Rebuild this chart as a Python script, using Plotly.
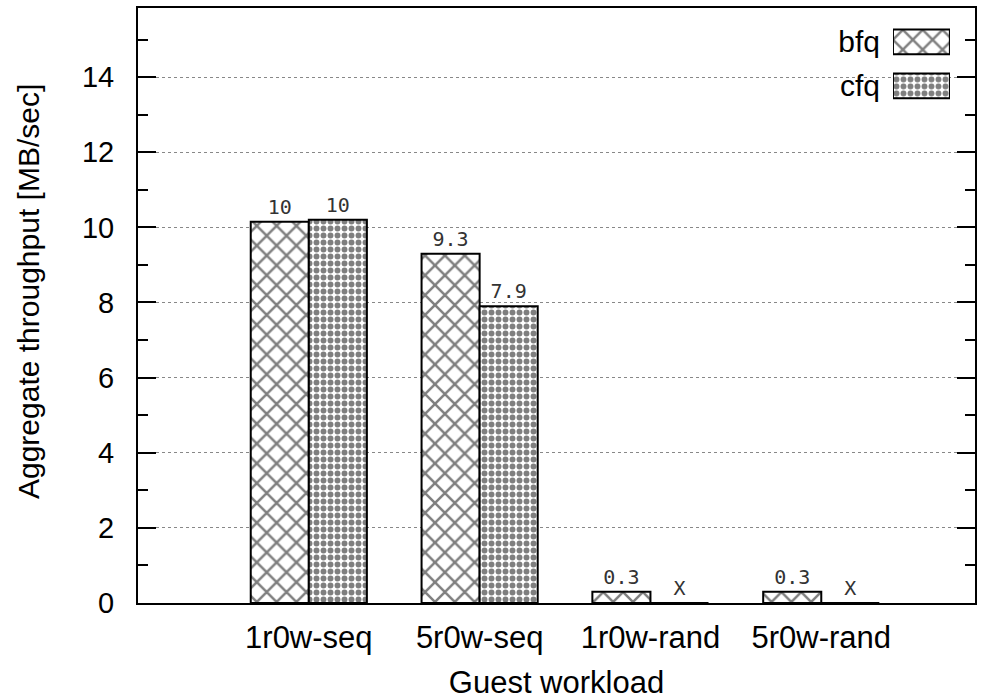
import plotly.graph_objects as go

categories = ["1r0w-seq", "5r0w-seq", "1r0w-rand", "5r0w-rand"]
series_names = ["bfq", "cfq"]
bfq_values = [10.15, 9.3, 0.3, 0.3]
cfq_values = [10.2, 7.9, 0.0, 0.0]
bfq_labels = ["10", "9.3", "0.3", "0.3"]
cfq_labels = ["10", "7.9", "X", "X"]
y_ticks = [0, 2, 4, 6, 8, 10, 12, 14]
key_lengths = [1, 1]
y_title = "Aggregate throughput [MB/sec]"
x_title = "Guest workload"

label_font = dict(family="DejaVu Sans Mono", size=20, color="#333333")
bfq_pattern = dict(shape="x", size=14, solidity=0.32, fgcolor="black", bgcolor="white")
cfq_pattern = dict(shape=".", size=7, solidity=0.55, fgcolor="black", bgcolor="white")
patterns = [bfq_pattern, cfq_pattern]
sans = "Liberation Sans, Arial"

fig = go.Figure()
for name, vals, labels, pat in [
    (series_names[0], bfq_values, bfq_labels, bfq_pattern),
    (series_names[1], cfq_values, cfq_labels, cfq_pattern),
]:
    fig.add_trace(go.Bar(
        x=categories, y=vals, name=name,
        text=labels, textposition="outside", textfont=label_font,
        marker=dict(color="white", line=dict(color="black", width=2), pattern=pat),
        cliponaxis=False, showlegend=False,
    ))

# gnuplot-style key: label on the left, patterned box on the right
for i, name in enumerate(series_names):
    fig.add_trace(go.Bar(
        x=[key_lengths[i]], y=[name], orientation="h", width=[0.56],
        xaxis="x2", yaxis="y2", showlegend=False, hoverinfo="skip",
        marker=dict(color="white", line=dict(color="black", width=2), pattern=patterns[i]),
    ))

# white area behind the key (interrupts the grid line like the original)
fig.add_shape(type="rect", xref="paper", yref="paper",
              x0=0.81, x1=0.985, y0=0.83, y1=0.985,
              fillcolor="white", line=dict(width=0), layer="between")

# y-axis title placed like gnuplot's ylabel
fig.add_annotation(text=y_title, xref="paper", yref="paper",
                   x=-0.13, y=0.523, xanchor="center", yanchor="middle",
                   textangle=-90, showarrow=False,
                   font=dict(family=sans, size=30, color="black"))

fig.update_layout(
    width=984, height=700,
    margin=dict(l=138, r=9, t=8, b=97, autoexpand=False),
    paper_bgcolor="white", plot_bgcolor="white",
    barmode="group", bargap=0.32, bargroupgap=0,
    font=dict(family=sans, size=30, color="black"),
    xaxis=dict(
        title=dict(text=x_title, standoff=17, font=dict(family=sans, size=31)),
        range=[-1, 3.9], automargin=False,
        showline=True, linecolor="black", linewidth=2, mirror=True,
        ticks="", showgrid=False, tickfont=dict(family=sans, size=31),
        ticklabelstandoff=6,
    ),
    yaxis=dict(
        range=[0, 15.84], automargin=False,
        tickvals=y_ticks,
        showline=True, linecolor="black", linewidth=2, mirror="ticks",
        ticks="inside", ticklen=18, tickwidth=1.5, tickcolor="black",
        showgrid=True, gridcolor="#888888", griddash="dot", gridwidth=1,
        minor=dict(dtick=1, ticks="inside", ticklen=10, tickcolor="black",
                   tickwidth=1.5, showgrid=False),
        zeroline=False, tickfont=dict(family=sans, size=29),
        ticklabelstandoff=16,
    ),
    xaxis2=dict(domain=[0.902, 0.970], range=[0, 1], anchor="y2",
                visible=False, fixedrange=True, automargin=False),
    yaxis2=dict(domain=[0.832, 0.980], anchor="x2", autorange="reversed",
                showline=False, showgrid=False, zeroline=False, ticks="",
                tickfont=dict(family=sans, size=30), ticklabelstandoff=12,
                fixedrange=True, automargin=False),
)

fig.write_html("out.html")
